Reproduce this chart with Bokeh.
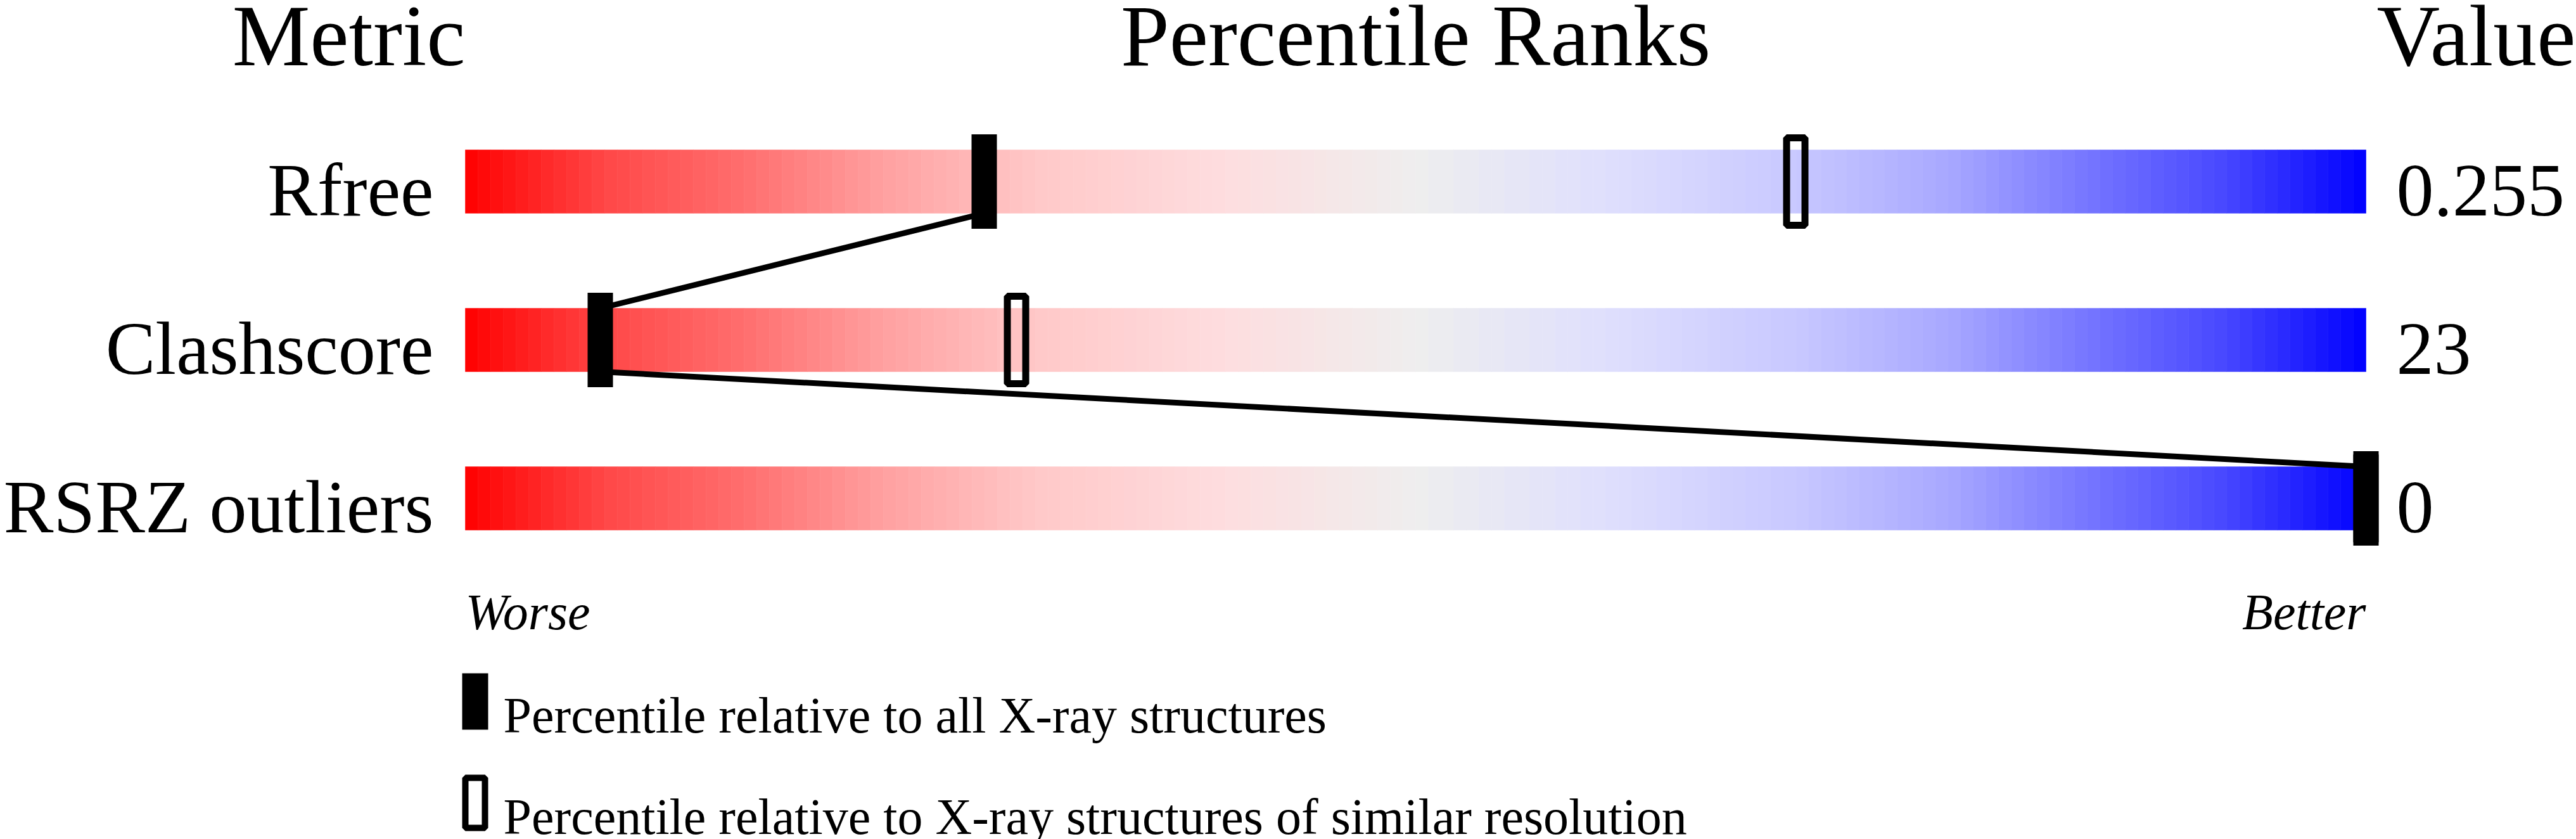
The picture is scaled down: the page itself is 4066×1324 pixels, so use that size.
import numpy as np
from bokeh.plotting import figure
from bokeh.models import Range1d
from bokeh.core.properties import value
from bokeh.embed import file_html
from bokeh.resources import INLINE

# ---------------- data ----------------
metrics = ["Rfree", "Clashscore", "RSRZ outliers"]
metric_values = ["0.255", "23", "0"]
pct_all = [27.3, 7.1, 100.0]          # percentile relative to all X-ray structures
pct_similar = [70.0, 29.0, 100.0]     # percentile relative to similar resolution
header_labels = ["Metric", "Percentile Ranks", "Value"]
scale_labels = ["Worse", "Better"]
legend_labels = ["Percentile relative to all X-ray structures",
                 "Percentile relative to X-ray structures of similar resolution"]
grad_stops = [0, 7.5, 15, 22, 30, 40, 50, 60, 70, 78, 85, 92.5, 100]
grad_colors = ["#FF0000", "#FF4848", "#FF7070", "#FFA0A0", "#FFC8C8", "#FEDDDF",
               "#EEEEEE", "#DFDFFD", "#C8C8FF", "#A8A8FF", "#7878FF", "#4848FF", "#0000FF"]

# ---------------- layout ----------------
W, H = 4066, 1324
OFF = 0
PX_PER_PCT = 30.0
ROW = 250.0
BAR_LEFT_PX = 734.0
ROW0_PX = 286.0
FONT = value("Liberation Serif")

x_range = Range1d((OFF - BAR_LEFT_PX) / PX_PER_PCT, (OFF + W - BAR_LEFT_PX) / PX_PER_PCT)
y_range = Range1d((OFF + H - ROW0_PX) / ROW, (OFF - ROW0_PX) / ROW)

p = figure(width=W, height=H, x_range=x_range, y_range=y_range,
           output_backend="svg", toolbar_location=None, min_border=0,
           x_axis_location=None, y_axis_location=None)
p.grid.visible = False
p.outline_line_color = None
p.background_fill_color = "white"
p.border_fill_color = "white"

rows = np.arange(len(metrics))

# gradient bars
def hex2rgb(h):
    return np.array([int(h[i:i + 2], 16) for i in (1, 3, 5)], dtype=float)

rgb = np.array([hex2rgb(c) for c in grad_colors])
N = 150
edges = np.linspace(0, 100, N + 1)
mids = (edges[:-1] + edges[1:]) / 2
cols = []
for m in mids:
    r = np.interp(m, grad_stops, rgb[:, 0])
    g = np.interp(m, grad_stops, rgb[:, 1])
    b = np.interp(m, grad_stops, rgb[:, 2])
    cols.append("#%02x%02x%02x" % (int(round(r)), int(round(g)), int(round(b))))

L, R, B, T, C = [], [], [], [], []
for i in rows:
    L += list(edges[:-1]); R += list(edges[1:])
    B += [i + 0.2] * N; T += [i - 0.2] * N
    C += cols
p.quad(left=L, right=R, bottom=B, top=T, fill_color=C, line_color=C, line_width=0.6)

# connecting lines
p.segment(x0=pct_all[:-1], y0=rows[:-1] + 0.2, x1=pct_all[1:], y1=rows[1:] - 0.2,
          line_color="black", line_width=9)

# hollow markers (similar resolution)
p.rect(x=pct_similar, y=rows, width=29, height=138, width_units="screen",
       height_units="screen", fill_alpha=0.0,
       line_color="black", line_width=11)
# filled markers (all structures)
p.rect(x=pct_all, y=rows, width=40, height=149, width_units="screen",
       height_units="screen", fill_color="black", line_color=None)

# headers
TITLE_Y = -0.92
p.text(x=[0], y=[TITLE_Y], text=[header_labels[0]], text_font=FONT, text_font_size="138px",
       text_align="right", text_baseline="alphabetic", text_color="black")
p.text(x=[50], y=[TITLE_Y], text=[header_labels[1]], text_font=FONT, text_font_size="138px",
       text_align="center", text_baseline="alphabetic", text_color="black")
p.text(x=[x_range.end - 0.03], y=[TITLE_Y], text=[header_labels[2]], text_font=FONT,
       text_font_size="138px", text_align="right", text_baseline="alphabetic",
       text_color="black")

# row labels and values
p.text(x=[-1.67] * len(metrics), y=rows + 0.054, text=metrics, text_font=FONT,
       text_font_size="118px", text_align="right", text_baseline="alphabetic",
       text_color="black")
p.text(x=[101.6] * len(metrics), y=rows + 0.058, text=metric_values, text_font=FONT,
       text_font_size="118px", text_align="left", text_baseline="alphabetic",
       text_color="black")

# worse / better
p.text(x=[0, 100], y=[2.716, 2.716], text=scale_labels, text_font=FONT, text_font_size="80px",
       text_font_style="italic", text_align=["left", "right"], text_baseline="alphabetic",
       text_color="black")

# legend
p.rect(x=[0.517], y=[3.282], width=41, height=89, width_units="screen",
       height_units="screen", fill_color="black", line_color=None)
p.rect(x=[0.517], y=[3.922], width=31, height=79, width_units="screen",
       height_units="screen", fill_alpha=0.0, line_color="black", line_width=10)
p.text(x=[2.0, 2.0], y=[3.368, 4.008], text=legend_labels, text_font=FONT,
       text_font_size="80px", text_align="left", text_baseline="alphabetic",
       text_color="black")

open("out.html", "w").write(file_html(p, INLINE))
